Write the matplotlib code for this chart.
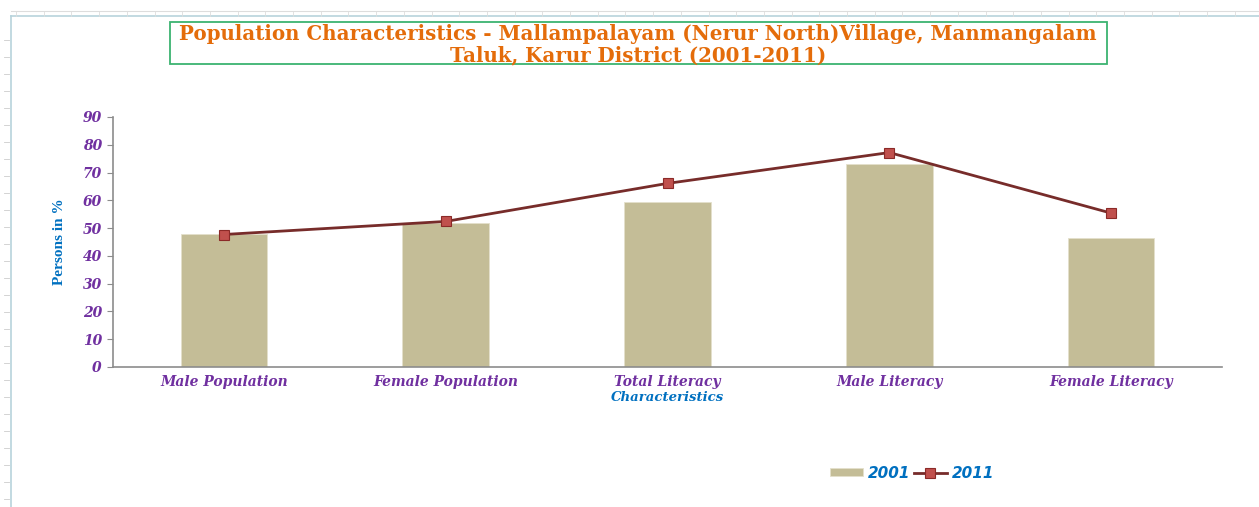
import matplotlib.pyplot as plt
import numpy as np
from matplotlib.lines import Line2D
from matplotlib.patches import Rectangle

# Data
categories = ['Male Population', 'Female Population', 'Total Literacy',
              'Male Literacy', 'Female Literacy']
values_2001 = [48.0, 51.9, 59.3, 73.1, 46.4]
values_2011 = [47.7, 52.4, 66.1, 77.2, 55.4]
yticks = list(range(0, 91, 10))

bar_color = '#C4BD97'
line_color = '#772C2A'
marker_color = '#C0504D'
purple = '#7030A0'
blue = '#0070C0'
orange = '#E46C0A'

fig = plt.figure(figsize=(12.59, 5.07), dpi=100)
W, H = 1259, 507

# spreadsheet-ish frame behind the chart
fig.add_artist(Line2D([11 / W, 1], [1 - 16 / H, 1 - 16 / H], color='#B7D3DC', lw=1.2))
fig.add_artist(Line2D([11 / W, 11 / W], [0, 1 - 16 / H], color='#B7D3DC', lw=1.2))
fig.add_artist(Line2D([11 / W, 1], [1 - 11 / H, 1 - 11 / H], color='#DDDDDD', lw=0.8))
for xc in np.arange(16, W, 27.7):
    fig.add_artist(Line2D([xc / W, xc / W], [1 - 16 / H, 1 - 11 / H], color='#DDDDDD', lw=0.6))
for yr in np.arange(40, H, 17.0):
    fig.add_artist(Line2D([4 / W, 9 / W], [1 - yr / H, 1 - yr / H], color='#CCCCCC', lw=0.6))

ax = fig.add_axes([113 / W, 1 - 367 / H, (1222 - 113) / W, (367 - 117) / H])
x = np.arange(len(categories))
bars = ax.bar(x, values_2001, width=0.39, color=bar_color, edgecolor='#E4E0CC', lw=0.6,
              label='2001', zorder=2)
line, = ax.plot(x, values_2011, color=line_color, lw=2, marker='s', markersize=6.5,
                markerfacecolor=marker_color, markeredgecolor='#8B2A28', markeredgewidth=0.8,
                label='2011', zorder=3)

ax.set_xlim(-0.5, len(categories) - 0.5)
ax.set_ylim(0, 90)
ax.set_yticks(yticks)
ax.set_xticks(x)
ax.set_xticklabels(categories)
for s in ['top', 'right']:
    ax.spines[s].set_visible(False)
for s in ['left', 'bottom']:
    ax.spines[s].set_color('#8C8C8C')
    ax.spines[s].set_linewidth(1.2)
ax.tick_params(axis='y', length=4, color='#8C8C8C', pad=4)
ax.tick_params(axis='x', length=0, pad=6)
for lab in ax.get_xticklabels() + ax.get_yticklabels():
    lab.set_family('DejaVu Serif')
    lab.set_style('italic')
    lab.set_weight('bold')
    lab.set_color(purple)
    lab.set_fontsize(10)

ax.set_xlabel('Characteristics', family='DejaVu Serif', style='italic', weight='bold',
              color=blue, fontsize=9.5, labelpad=1)
ax.set_ylabel('Persons in %', family='Liberation Serif', weight='bold',
              color=blue, fontsize=11, labelpad=12)

# title box
fig.add_artist(Rectangle((170 / W, 1 - 64 / H), (1107 - 170) / W, 42 / H,
                         transform=fig.transFigure, fill=False,
                         edgecolor='#3CB371', lw=1.3))
fig.text(638 / W, 1 - 45 / H,
         'Population Characteristics - Mallampalayam (Nerur North)Village, Manmangalam\n'
         'Taluk, Karur District (2001-2011)',
         ha='center', va='center', family='DejaVu Serif', weight='bold',
         color=orange, fontsize=14.3, linespacing=1.1)

leg = fig.legend([bars, line], ['2001', '2011'], loc='center',
                 bbox_to_anchor=(912 / W, 1 - 473 / H), ncol=2,
                 frameon=False, handlelength=2.2, handleheight=0.5,
                 handletextpad=0.3, columnspacing=0.2,
                 prop={'family': 'DejaVu Sans', 'style': 'italic', 'weight': 'bold',
                       'size': 11})
for t in leg.get_texts():
    t.set_color(blue)

fig.savefig('out.png', dpi=100)
